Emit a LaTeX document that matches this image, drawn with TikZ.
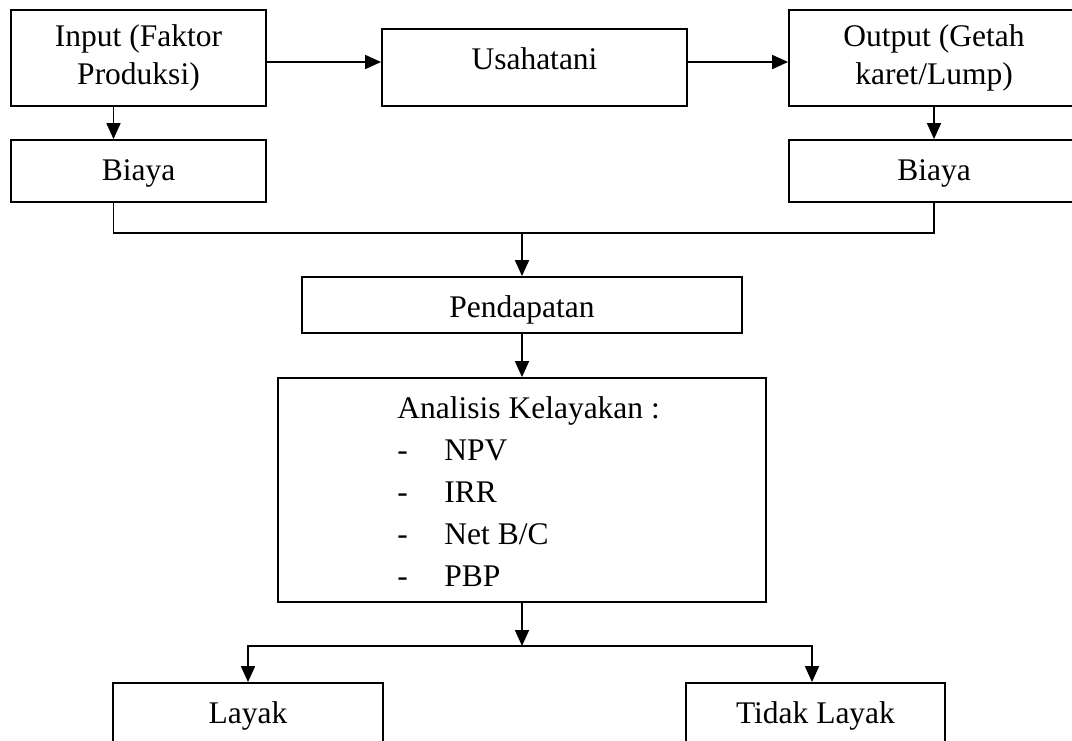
\documentclass[tikz,border=0pt]{standalone}
\usepackage{fontspec}
\setmainfont{Liberation Serif}
\usetikzlibrary{arrows.meta, positioning, calc}

\begin{document}
\begin{tikzpicture}[x=0.5pt, y=-0.5pt,
    blk/.style={rectangle, draw, line width=0.9pt, inner sep=0pt, align=center,
                font=\fontsize{15.75}{18.65}\selectfont},
    ttop/.style={text height=20pt, text depth=#1},
    arr/.style={-{Triangle[length=8pt, width=7pt]}, line width=0.9pt},
    ln/.style={line width=0.9pt},
  ]
  \useasboundingbox (0,0) rectangle (1072,740);
  \clip (0,0) rectangle (1072,740);

  \node[blk, minimum width=127.5pt, minimum height=48pt] (inp) at (138.5,58)
    {Input (Faktor\\Produksi)};
  \node[blk, ttop=18.5pt, minimum width=152.5pt] (usa) at (534.5,67.5)
    {Usahatani};
  \node[blk, minimum width=145pt, minimum height=48pt] (outp) at (934,58)
    {Output (Getah\\karet/Lump)};
  \node[blk, ttop=11pt, minimum width=127.5pt] (bl) at (138.5,171) {Biaya};
  \node[blk, ttop=11pt, minimum width=145pt] (br) at (934,171) {Biaya};
  \node[blk, ttop=8pt, minimum width=220pt] (pend) at (522,305) {Pendapatan};
  \node[blk, minimum width=244pt, minimum height=112pt] (anl) at (522,490) {};
  \node[anchor=north west, inner sep=0pt, align=left,
        font=\fontsize{15.75}{21}\selectfont] (anltxt) at (397,396)
    {Analisis Kelayakan :\\
     \makebox[23.5pt][l]{-}NPV\\
     \makebox[23.5pt][l]{-}IRR\\
     \makebox[23.5pt][l]{-}Net B/C\\
     \makebox[23.5pt][l]{-}PBP};
  \node[blk, ttop=15pt, minimum width=135pt] (lay) at (248,718) {Layak};
  \node[blk, ttop=15pt, minimum width=129.5pt] (tdk) at (815.5,718) {Tidak Layak};

  % top row
  \draw[arr] ([yshift=-2pt]inp.east) -- ([yshift=-2pt]inp.east -| usa.west);
  \draw[arr] ([yshift=-2pt]outp.west -| usa.east) -- ([yshift=-2pt]outp.west);
  \draw[arr] ([xshift=-12.5pt]inp.south) -- ([xshift=-12.5pt]bl.north);
  \draw[arr] (outp) -- (br);

  % merge of costs
  \coordinate (mrg) at (522,233);
  \draw[ln] ([xshift=-12.5pt]bl.south) |- (mrg) -| (br.south);
  \draw[arr] (mrg) -- (pend);
  \draw[arr] (pend) -- (anl);

  % split into result
  \coordinate (spl) at (522,646);
  \draw[arr] (anl) -- (spl);
  \draw[arr] (spl) -| (lay.north);
  \draw[arr] (spl) -| ([xshift=-1.75pt]tdk.north);
\end{tikzpicture}
\end{document}
